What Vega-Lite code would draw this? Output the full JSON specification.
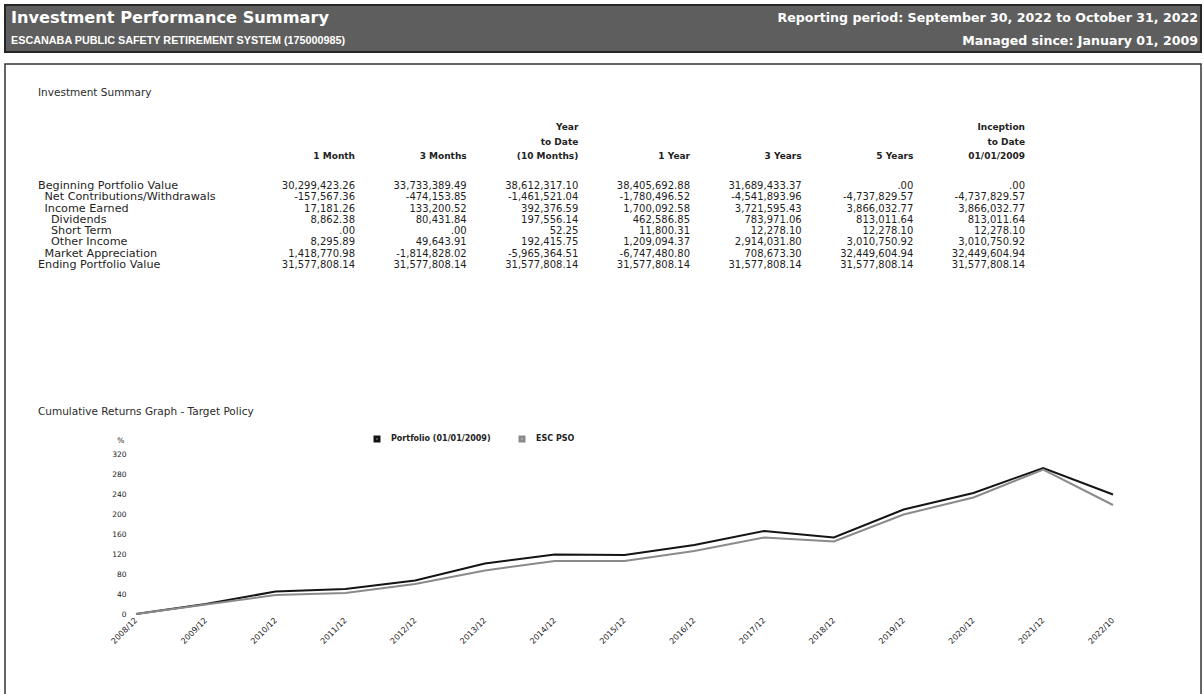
{
  "$schema": "https://vega.github.io/schema/vega-lite/v6.json",
  "padding": {"left": 4, "top": 4, "right": 4, "bottom": 0},
  "background": "#ffffff",
  "config": {
    "view": {"stroke": null},
    "font": "DejaVu Sans",
    "concat": {"spacing": 10},
    "locale": {"number": {"decimal": ".", "thousands": ",", "grouping": [3], "currency": ["$", ""], "minus": "-"}}
  },
  "datasets": {
    "header": [
      {"side": "left", "line": 1, "role": "title", "text": "Investment Performance Summary"},
      {"side": "left", "line": 2, "role": "subtitle", "text": "ESCANABA PUBLIC SAFETY RETIREMENT SYSTEM (175000985)"},
      {"side": "right", "line": 1, "role": "period", "text": "Reporting period:  September 30, 2022 to October 31, 2022"},
      {"side": "right", "line": 2, "role": "period", "text": "Managed since:  January 01, 2009"}
    ],
    "table": [
      {"row": "Beginning Portfolio Value", "level": 0, "1 Month": 30299423.26, "3 Months": 33733389.49, "Year to Date": 38612317.10, "1 Year": 38405692.88, "3 Years": 31689433.37, "5 Years": 0, "Inception to Date": 0},
      {"row": "Net Contributions/Withdrawals", "level": 1, "1 Month": -157567.36, "3 Months": -474153.85, "Year to Date": -1461521.04, "1 Year": -1780496.52, "3 Years": -4541893.96, "5 Years": -4737829.57, "Inception to Date": -4737829.57},
      {"row": "Income Earned", "level": 1, "1 Month": 17181.26, "3 Months": 133200.52, "Year to Date": 392376.59, "1 Year": 1700092.58, "3 Years": 3721595.43, "5 Years": 3866032.77, "Inception to Date": 3866032.77},
      {"row": "Dividends", "level": 2, "1 Month": 8862.38, "3 Months": 80431.84, "Year to Date": 197556.14, "1 Year": 462586.85, "3 Years": 783971.06, "5 Years": 813011.64, "Inception to Date": 813011.64},
      {"row": "Short Term", "level": 2, "1 Month": 0, "3 Months": 0, "Year to Date": 52.25, "1 Year": 11800.31, "3 Years": 12278.10, "5 Years": 12278.10, "Inception to Date": 12278.10},
      {"row": "Other Income", "level": 2, "1 Month": 8295.89, "3 Months": 49643.91, "Year to Date": 192415.75, "1 Year": 1209094.37, "3 Years": 2914031.80, "5 Years": 3010750.92, "Inception to Date": 3010750.92},
      {"row": "Market Appreciation", "level": 1, "1 Month": 1418770.98, "3 Months": -1814828.02, "Year to Date": -5965364.51, "1 Year": -6747480.80, "3 Years": 708673.30, "5 Years": 32449604.94, "Inception to Date": 32449604.94},
      {"row": "Ending Portfolio Value", "level": 0, "1 Month": 31577808.14, "3 Months": 31577808.14, "Year to Date": 31577808.14, "1 Year": 31577808.14, "3 Years": 31577808.14, "5 Years": 31577808.14, "Inception to Date": 31577808.14}
    ],
    "returns": [
      {"period": "2008/12", "series": "Portfolio (01/01/2009)", "return": 0},
      {"period": "2009/12", "series": "Portfolio (01/01/2009)", "return": 20},
      {"period": "2010/12", "series": "Portfolio (01/01/2009)", "return": 45},
      {"period": "2011/12", "series": "Portfolio (01/01/2009)", "return": 50},
      {"period": "2012/12", "series": "Portfolio (01/01/2009)", "return": 67},
      {"period": "2013/12", "series": "Portfolio (01/01/2009)", "return": 101},
      {"period": "2014/12", "series": "Portfolio (01/01/2009)", "return": 119},
      {"period": "2015/12", "series": "Portfolio (01/01/2009)", "return": 118},
      {"period": "2016/12", "series": "Portfolio (01/01/2009)", "return": 138},
      {"period": "2017/12", "series": "Portfolio (01/01/2009)", "return": 166},
      {"period": "2018/12", "series": "Portfolio (01/01/2009)", "return": 153},
      {"period": "2019/12", "series": "Portfolio (01/01/2009)", "return": 209},
      {"period": "2020/12", "series": "Portfolio (01/01/2009)", "return": 242},
      {"period": "2021/12", "series": "Portfolio (01/01/2009)", "return": 292},
      {"period": "2022/10", "series": "Portfolio (01/01/2009)", "return": 239},
      {"period": "2008/12", "series": "ESC PSO", "return": 0},
      {"period": "2009/12", "series": "ESC PSO", "return": 19},
      {"period": "2010/12", "series": "ESC PSO", "return": 38},
      {"period": "2011/12", "series": "ESC PSO", "return": 42},
      {"period": "2012/12", "series": "ESC PSO", "return": 60},
      {"period": "2013/12", "series": "ESC PSO", "return": 87},
      {"period": "2014/12", "series": "ESC PSO", "return": 106},
      {"period": "2015/12", "series": "ESC PSO", "return": 106},
      {"period": "2016/12", "series": "ESC PSO", "return": 126},
      {"period": "2017/12", "series": "ESC PSO", "return": 153},
      {"period": "2018/12", "series": "ESC PSO", "return": 145},
      {"period": "2019/12", "series": "ESC PSO", "return": 199},
      {"period": "2020/12", "series": "ESC PSO", "return": 233},
      {"period": "2021/12", "series": "ESC PSO", "return": 289},
      {"period": "2022/10", "series": "ESC PSO", "return": 218}
    ]
  },
  "vconcat": [
    {
      "width": 1196,
      "height": 47,
      "view": {"fill": "#5e5e5e", "stroke": "#262626", "strokeWidth": 2},
      "data": {"name": "header"},
      "encoding": {
        "x": {"field": "side", "type": "nominal", "scale": {"type": "point", "domain": ["left", "right"], "range": [6, 1193], "padding": 0}, "axis": null},
        "y": {"field": "line", "type": "ordinal", "scale": {"type": "point", "domain": [1, 2], "range": [13, 36], "padding": 0}, "axis": null},
        "text": {"field": "text", "type": "nominal"}
      },
      "layer": [
        {"transform": [{"filter": "datum.role === 'title'"}], "mark": {"type": "text", "align": "left", "baseline": "middle", "fontSize": 16.2, "fontWeight": "bold", "color": "#ffffff"}},
        {"transform": [{"filter": "datum.role === 'subtitle'"}], "mark": {"type": "text", "align": "left", "baseline": "middle", "font": "Liberation Sans", "fontSize": 10.8, "fontWeight": "bold", "color": "#ffffff"}},
        {"transform": [{"filter": "datum.role === 'period'"}], "mark": {"type": "text", "align": "right", "baseline": "middle", "fontSize": 12.6, "fontWeight": "bold", "color": "#ffffff"}}
      ]
    },
    {
      "width": 1196,
      "height": 633,
      "view": {"stroke": "#333333", "strokeWidth": 1.5},
      "resolve": {
        "scale": {"x": "independent", "y": "independent", "color": "independent"},
        "axis": {"x": "independent", "y": "independent"}
      },
      "layer": [
        {
          "data": {"values": [
            {"section": "Investment Summary", "level": 0},
            {"section": "Cumulative Returns Graph - Target Policy", "level": 0}
          ]},
          "mark": {"type": "text", "align": "left", "baseline": "middle", "fontSize": 10.5, "color": "#2a2a2a"},
          "encoding": {
            "x": {"field": "level", "type": "ordinal", "scale": {"type": "point", "domain": [0, 1, 2], "range": [33, 46], "padding": 0}, "axis": null},
            "y": {"field": "section", "type": "nominal", "scale": {"type": "point", "domain": ["Investment Summary", "Cumulative Returns Graph - Target Policy"], "range": [29, 348], "padding": 0}, "axis": null},
            "text": {"field": "section", "type": "nominal"}
          }
        },
        {
          "data": {"values": [
            {"column": "1 Month", "line": 3, "text": "1 Month"},
            {"column": "3 Months", "line": 3, "text": "3 Months"},
            {"column": "Year to Date", "line": 1, "text": "Year"},
            {"column": "Year to Date", "line": 2, "text": "to Date"},
            {"column": "Year to Date", "line": 3, "text": "(10 Months)"},
            {"column": "1 Year", "line": 3, "text": "1 Year"},
            {"column": "3 Years", "line": 3, "text": "3 Years"},
            {"column": "5 Years", "line": 3, "text": "5 Years"},
            {"column": "Inception to Date", "line": 1, "text": "Inception"},
            {"column": "Inception to Date", "line": 2, "text": "to Date"},
            {"column": "Inception to Date", "line": 3, "text": "01/01/2009"}
          ]},
          "mark": {"type": "text", "align": "right", "baseline": "middle", "fontSize": 9, "fontWeight": 600, "color": "#222222"},
          "encoding": {
            "x": {"field": "column", "type": "nominal", "scale": {"type": "point", "domain": ["1 Month", "3 Months", "Year to Date", "1 Year", "3 Years", "5 Years", "Inception to Date"], "range": [350, 1020], "padding": 0}, "axis": null},
            "y": {"field": "line", "type": "ordinal", "scale": {"type": "point", "domain": [1, 2, 3], "range": [63, 92], "padding": 0}, "axis": null},
            "text": {"field": "text", "type": "nominal"}
          }
        },
        {
          "data": {"name": "table"},
          "mark": {"type": "text", "align": "left", "baseline": "middle", "fontSize": 11.2, "color": "#1e1e1e"},
          "encoding": {
            "x": {"field": "level", "type": "ordinal", "scale": {"type": "point", "domain": [0, 1, 2], "range": [33, 46], "padding": 0}, "axis": null},
            "y": {"field": "row", "type": "nominal", "scale": {"type": "point", "domain": ["Beginning Portfolio Value", "Net Contributions/Withdrawals", "Income Earned", "Dividends", "Short Term", "Other Income", "Market Appreciation", "Ending Portfolio Value"], "range": [122, 201], "padding": 0}, "axis": null},
            "text": {"field": "row", "type": "nominal"}
          }
        },
        {
          "data": {"name": "table"},
          "transform": [{"fold": ["1 Month", "3 Months", "Year to Date", "1 Year", "3 Years", "5 Years", "Inception to Date"], "as": ["column", "amount"]}],
          "mark": {"type": "text", "align": "right", "baseline": "middle", "fontSize": 10, "color": "#1e1e1e"},
          "encoding": {
            "x": {"field": "column", "type": "nominal", "scale": {"type": "point", "domain": ["1 Month", "3 Months", "Year to Date", "1 Year", "3 Years", "5 Years", "Inception to Date"], "range": [350, 1020], "padding": 0}, "axis": null},
            "y": {"field": "row", "type": "nominal", "scale": {"type": "point", "domain": ["Beginning Portfolio Value", "Net Contributions/Withdrawals", "Income Earned", "Dividends", "Short Term", "Other Income", "Market Appreciation", "Ending Portfolio Value"], "range": [122, 201], "padding": 0}, "axis": null},
            "text": {"condition": {"test": "datum.amount === 0", "value": ".00"}, "field": "amount", "type": "quantitative", "format": ",.2f"}
          }
        },
        {
          "data": {"name": "returns"},
          "mark": {"type": "line", "strokeWidth": 2},
          "encoding": {
            "x": {
              "field": "period", "type": "ordinal",
              "scale": {"type": "point", "range": [131, 1108], "padding": 0},
              "axis": {"orient": "bottom", "offset": -83, "title": null, "labelAngle": -45, "labelAlign": "right", "labelBaseline": "middle", "ticks": false, "domain": false, "grid": false, "labelPadding": 5, "labelFontSize": 8, "labelColor": "#1a1a1a", "labelOverlap": false}
            },
            "y": {
              "field": "return", "type": "quantitative",
              "scale": {"domain": [0, 320], "range": [550, 390], "nice": false, "zero": false},
              "axis": {"orient": "left", "offset": -123, "values": [0, 40, 80, 120, 160, 200, 240, 280, 320], "ticks": false, "domain": false, "grid": false, "labelPadding": 2, "labelFontSize": 7.5, "labelColor": "#1a1a1a", "title": "%", "titleAngle": 0, "titleAlign": "right", "titleBaseline": "middle", "titleX": -4, "titleY": 376, "titleFontSize": 7.5, "titleFontWeight": "normal", "titleColor": "#1a1a1a"}
            },
            "color": {
              "field": "series", "type": "nominal",
              "scale": {"domain": ["Portfolio (01/01/2009)", "ESC PSO"], "range": ["#141414", "#8a8a8a"]},
              "legend": {"orient": "none", "legendX": 368, "legendY": 371, "direction": "horizontal", "title": null, "symbolType": "square", "symbolSize": 16, "symbolStrokeWidth": 3, "labelFontSize": 8, "labelFontWeight": "bold", "labelColor": "#222222", "columnPadding": 23, "labelOffset": 10}
            }
          }
        }
      ]
    }
  ]
}
